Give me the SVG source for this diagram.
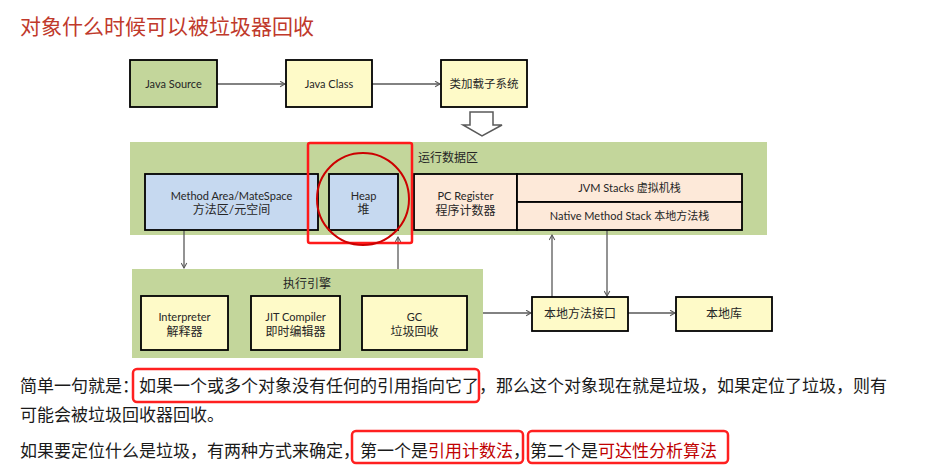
<svg xmlns="http://www.w3.org/2000/svg" width="925" height="466" viewBox="0 0 925 466">
<style>
.bg{fill:#c3d69b;stroke:none}
.box{stroke:#000;stroke-width:1.8}
.y{fill:#fefac8}
.b{fill:#c6d9f0}
.p{fill:#fde9d9}
.g{fill:#c3d69b}
.t{font-family:Lato,"Noto Sans CJK SC",sans-serif;font-size:11px;fill:#262626;text-anchor:middle}
.tl{font-family:Lato,"Noto Sans CJK SC",sans-serif;font-size:12px;fill:#262626}
.c{stroke:#595959;stroke-width:1.3;fill:none}
.para{font-family:"Noto Sans CJK SC",sans-serif;font-size:17px;fill:#1a1a1a}
.red{fill:#c00000}
.hl{fill:none;stroke:#ff2020;stroke-width:2.5}
</style>
<defs>
<marker id="ah" viewBox="0 0 10 10" refX="9" refY="5" markerWidth="7" markerHeight="7" orient="auto" markerUnits="userSpaceOnUse">
<polyline points="2,1 9,5 2,9" fill="none" stroke="#595959" stroke-width="1.5"/>
</marker>
</defs>
<text x="20" y="34" font-family="'Noto Sans CJK SC',sans-serif" font-size="21" fill="#c0392b">对象什么时候可以被垃圾器回收</text>

<rect class="bg" x="130" y="142" width="637" height="93"/>
<rect class="bg" x="132" y="269" width="351" height="89"/>
<text class="tl" x="418" y="162">运行数据区</text>
<text class="t" x="307" y="288" style="font-size:12px">执行引擎</text>

<g id="connectors">
<line class="c" x1="217" y1="84" x2="285" y2="84" marker-end="url(#ah)"/>
<line class="c" x1="372" y1="84" x2="440" y2="84" marker-end="url(#ah)"/>
<polygon points="470,112 493,112 493,125 502,125 482,136 463,125 470,125" fill="#fff" stroke="#595959" stroke-width="1.5"/>
<line class="c" x1="184" y1="230" x2="184" y2="268" marker-end="url(#ah)"/>
<line class="c" x1="398" y1="269" x2="398" y2="237" marker-end="url(#ah)"/>
<line class="c" x1="483" y1="313" x2="531" y2="313" marker-end="url(#ah)"/>
<line class="c" x1="628" y1="313" x2="675" y2="313" marker-end="url(#ah)"/>
<line class="c" x1="552" y1="297" x2="552" y2="235" marker-end="url(#ah)"/>
<line class="c" x1="607" y1="230" x2="607" y2="296" marker-end="url(#ah)"/>
</g>

<g id="java-source"><rect class="box g" x="130" y="60" width="87" height="47"/><text class="t" x="173.5" y="88">Java Source</text></g>
<g id="java-class"><rect class="box y" x="286" y="60" width="86" height="47"/><text class="t" x="329" y="88">Java Class</text></g>
<g id="classloader"><rect class="box y" x="441" y="60" width="86" height="47"/><text class="t" x="484" y="88" style="font-size:11.5px">类加载子系统</text></g>

<g id="method-area"><rect class="box b" x="145" y="174" width="173" height="56"/><text class="t" x="231.5" y="200">Method Area/MateSpace</text><text class="t" x="231.5" y="214" style="font-size:12px">方法区/元空间</text></g>
<g id="heap"><rect class="box b" x="329" y="174" width="69" height="56"/><text class="t" x="363.5" y="200">Heap</text><text class="t" x="363.5" y="214" style="font-size:12px">堆</text></g>
<g id="pc-register"><rect class="box p" x="414" y="174" width="103" height="56"/><text class="t" x="465.5" y="200">PC Register</text><text class="t" x="465.5" y="215" style="font-size:12px">程序计数器</text></g>
<g id="jvm-stacks"><rect class="box p" x="517" y="174" width="225" height="28"/><text class="t" x="629.5" y="192">JVM Stacks 虚拟机栈</text></g>
<g id="native-stack"><rect class="box p" x="517" y="202" width="225" height="28"/><text class="t" x="629.5" y="220">Native Method Stack 本地方法栈</text></g>

<g id="interpreter"><rect class="box y" x="141" y="296" width="87" height="54"/><text class="t" x="184.5" y="321">Interpreter</text><text class="t" x="184.5" y="336" style="font-size:12px">解释器</text></g>
<g id="jit"><rect class="box y" x="251" y="296" width="89" height="54"/><text class="t" x="295.5" y="321">JIT Compiler</text><text class="t" x="295.5" y="336" style="font-size:12px">即时编辑器</text></g>
<g id="gc"><rect class="box y" x="362" y="296" width="105" height="54"/><text class="t" x="414.5" y="321">GC</text><text class="t" x="414.5" y="336" style="font-size:12px">垃圾回收</text></g>

<g id="native-interface"><rect class="box y" x="532" y="297" width="96" height="34"/><text class="t" x="580" y="318" style="font-size:12px">本地方法接口</text></g>
<g id="native-lib"><rect class="box y" x="676" y="297" width="96" height="34"/><text class="t" x="724" y="318" style="font-size:12px">本地库</text></g>

<rect x="308" y="143" width="104" height="100" rx="2" fill="none" stroke="#ff1a1a" stroke-width="2.5"/>
<circle cx="363" cy="199" r="46" fill="none" stroke="#cc0000" stroke-width="2"/>

<text class="para" x="20" y="392">简单一句就是：如果一个或多个对象没有任何的引用指向它了，那么这个对象现在就是垃圾，如果定位了垃圾，则有</text>
<text class="para" x="20" y="421">可能会被垃圾回收器回收。</text>
<text class="para" y="457"><tspan x="20">如果要定位什么是垃圾，有两种方式来确定，</tspan><tspan x="360">第一个是</tspan><tspan x="428" class="red">引用计数法</tspan><tspan x="513">，</tspan><tspan x="530">第二个是</tspan><tspan x="598" class="red">可达性分析算法</tspan></text>
<rect class="hl" x="133" y="369" width="346" height="33" rx="4"/>
<rect class="hl" x="352" y="431" width="171" height="32" rx="4"/>
<rect class="hl" x="528" y="431" width="200" height="32" rx="4"/>
</svg>
